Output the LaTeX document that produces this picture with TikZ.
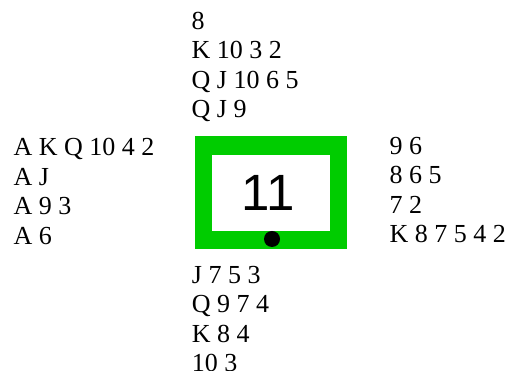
\documentclass[tikz,border=0pt]{standalone}
\usepackage{fontspec}
\setmainfont{Liberation Serif}
\newfontfamily\numfont{Liberation Sans}
\definecolor{boardgreen}{RGB}{0,204,0}
\begin{document}
\begin{tikzpicture}[x=1pt,y=1pt,
  hand/.style={anchor=north west, inner sep=0pt, align=left,
    font=\fontsize{26}{29.5}\selectfont},
  boardframe/.style={fill=boardgreen, draw=none},
  boardface/.style={fill=white, draw=none},
  dealer/.style={circle, fill=black, inner sep=0pt, minimum size=16pt}]
\useasboundingbox (0,0) rectangle (510,371);
\node[hand] (north) at (191.5,359.3) {8\\K 10 3 2\\Q J 10 6 5\\Q J 9};
\node[hand] (west) at (13.3,232.7) {A K Q 10 4 2\\A J\\A 9 3\\A 6};
\node[hand] (east) at (389.3,234.3) {9 6\\8 6 5\\7 2\\K 8 7 5 4 2};
\node[hand] (south) at (191.7,105) {J 7 5 3\\Q 9 7 4\\K 8 4\\10 3};
\path[boardframe] (195,122) rectangle (347,235);
\path[boardface] (212,140) rectangle (330,216);
\node[inner sep=0pt, font=\numfont\fontsize{51}{51}\selectfont] (num) at (268,178) {11};
\node[dealer] (dot) at (272,132) {};
\end{tikzpicture}
\end{document}
